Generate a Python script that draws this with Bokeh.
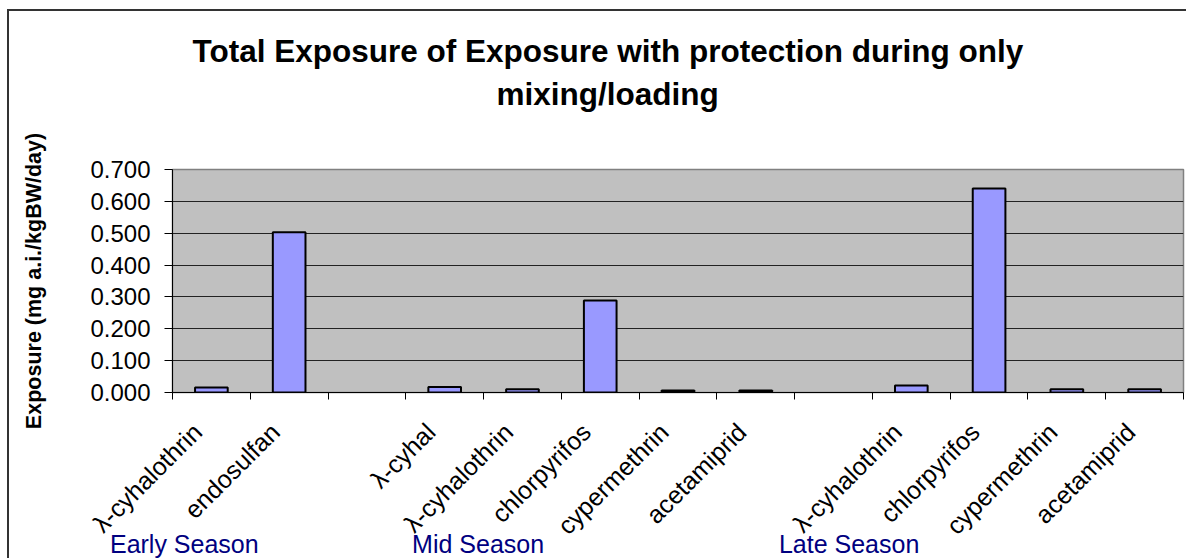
import math
from bokeh.plotting import figure
from bokeh.models import Range1d, FixedTicker, NumeralTickFormatter, LinearAxis, Title
from bokeh.embed import file_html
from bokeh.resources import INLINE

# ---- data ----
chemicals = ["λ-cyhalothrin", "endosulfan", "", "λ-cyhal", "λ-cyhalothrin",
             "chlorpyrifos", "cypermethrin", "acetamiprid", "", "λ-cyhalothrin",
             "chlorpyrifos", "cypermethrin", "acetamiprid"]
exposure = [0.016, 0.503, float("nan"), 0.017, 0.010, 0.289, 0.006, 0.006,
            float("nan"), 0.022, 0.640, 0.010, 0.010]
seasons = ["Early Season", "Mid Season", "Late Season"]
season_pos = [0.152, 3.93, 8.70]
y_ticks = [0.0, 0.1, 0.2, 0.3, 0.4, 0.5, 0.6, 0.7]
title_lines = ["Total Exposure of Exposure with protection during only", "mixing/loading"]
y_title = "Exposure (mg a.i./kgBW/day)"

FONT = "Liberation Sans"
n = len(chemicals)
centers = [i + 0.5 for i in range(n)]
bounds = [float(i) for i in range(n + 1)]
label_ticks = [c - 0.18 for c in centers]

p = figure(width=1179, height=549,
           x_range=Range1d(0, n), y_range=Range1d(0, 0.7),
           output_backend="svg", toolbar_location=None,
           min_border_left=163, min_border_right=5,
           min_border_top=158, min_border_bottom=167,
           background_fill_color="#C0C0C0", border_fill_color="white",
           outline_line_color="#808080", outline_line_width=1.5,
           margin=(9, 0, 0, 7),
           styles={"border-left": "2px solid #333333", "border-top": "2px solid #333333"})

p.vbar(x=centers, top=exposure, width=0.42, bottom=0,
       fill_color="#9999FF", line_color="black", line_width=2)

# y axis
p.yaxis.ticker = FixedTicker(ticks=y_ticks)
p.yaxis.formatter = NumeralTickFormatter(format="0.000")
p.yaxis.major_label_text_font = FONT
p.yaxis.major_label_text_font_size = "24px"
p.yaxis.major_label_text_color = "black"
p.yaxis.major_tick_out = 8
p.yaxis.major_tick_in = 0
p.yaxis.major_tick_line_color = "black"
p.yaxis.minor_tick_line_color = None
p.yaxis.axis_line_color = "black"
p.yaxis.major_label_standoff = 14
p.yaxis.axis_label = y_title
p.yaxis.axis_label_text_font = FONT
p.yaxis.axis_label_text_font_style = "bold"
p.yaxis.axis_label_text_font_size = "21.5px"
p.yaxis.axis_label_text_color = "black"
p.yaxis.axis_label_standoff = 41

p.ygrid.ticker = FixedTicker(ticks=y_ticks[1:-1])
p.ygrid.grid_line_color = "#222222"
p.ygrid.grid_line_width = 1
p.xgrid.grid_line_color = None

# x axis (chemical names, tick marks at category boundaries)
p.xaxis.ticker = FixedTicker(ticks=label_ticks, minor_ticks=bounds)
p.xaxis.major_label_overrides = {t: lab for t, lab in zip(label_ticks, chemicals)}
p.xaxis.major_tick_line_color = None
p.xaxis.major_tick_out = 0
p.xaxis.major_tick_in = 0
p.xaxis.minor_tick_line_color = "black"
p.xaxis.minor_tick_out = 7
p.xaxis.minor_tick_in = 0
p.xaxis.axis_line_color = "black"
p.xaxis.major_label_orientation = math.pi / 4
p.xaxis.major_label_text_font = FONT
p.xaxis.major_label_text_font_size = "25px"
p.xaxis.major_label_text_color = "black"
p.xaxis.major_label_standoff = 28

# season axis below
season_axis = LinearAxis(ticker=FixedTicker(ticks=season_pos),
                         major_label_overrides={t: s for t, s in zip(season_pos, seasons)},
                         axis_line_color=None, major_tick_line_color=None,
                         minor_tick_line_color=None, major_tick_out=0, major_tick_in=0,
                         major_label_standoff=-23,
                         major_label_text_font=FONT, major_label_text_font_size="25px",
                         major_label_text_color="#000080")
p.add_layout(season_axis, "below")

# title (two lines) with a spacer next to the frame
p.add_layout(Title(text=" ", text_font_size="45px", standoff=0), "above")
p.add_layout(Title(text=title_lines[1], align="left", offset=324, standoff=10,
                   text_font=FONT, text_font_style="bold", text_font_size="31.5px",
                   text_color="black"), "above")
p.add_layout(Title(text=title_lines[0], align="left", offset=20, standoff=0,
                   text_font=FONT, text_font_style="bold", text_font_size="31.5px",
                   text_color="black"), "above")

open("out.html", "w").write(file_html(p, INLINE))
